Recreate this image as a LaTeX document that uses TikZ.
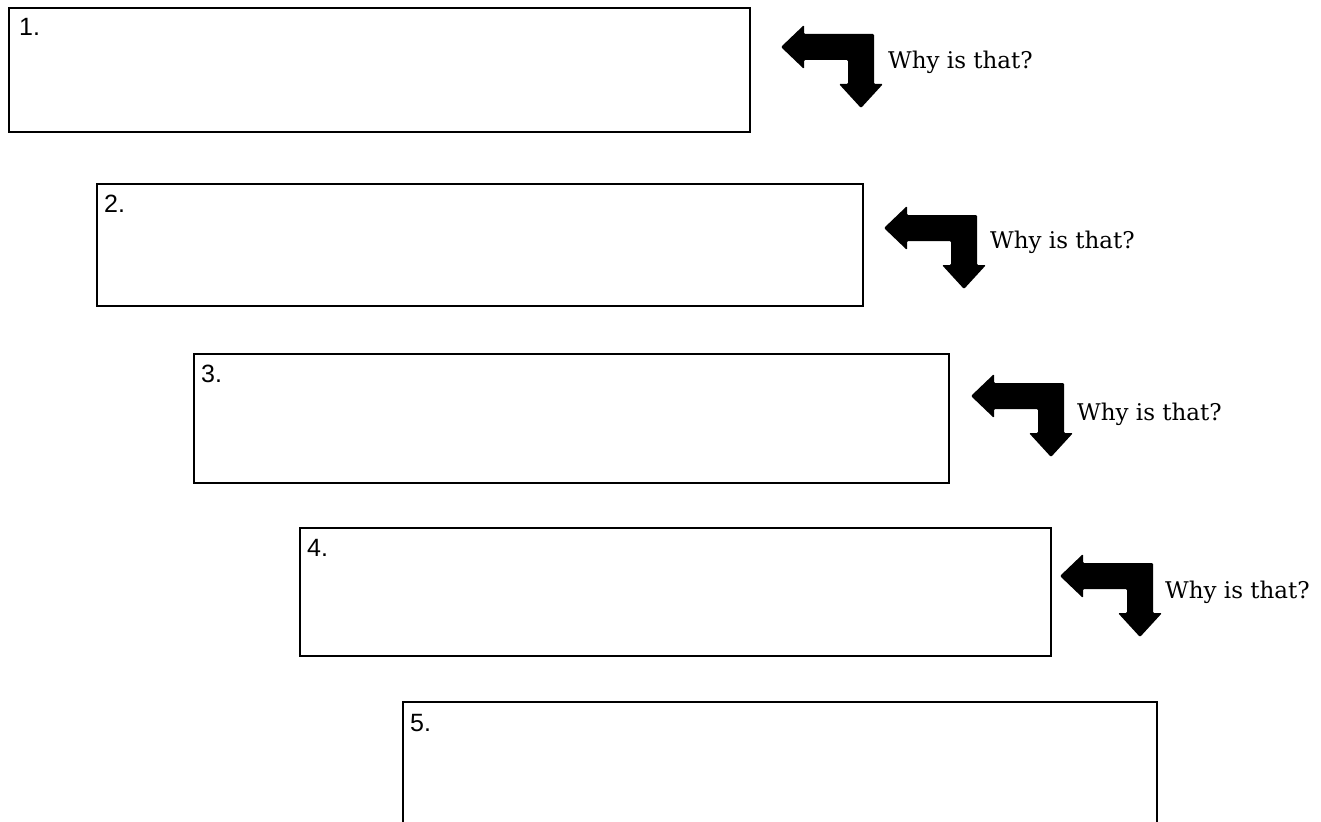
\documentclass[tikz,border=0pt]{standalone}
\usepackage{fontspec}
\setmainfont{DejaVu Serif}
\newfontfamily\lblfont{Liberation Sans}
\usetikzlibrary{calc}
\begin{document}
\begin{tikzpicture}[x=1pt,y=-1pt,
  box/.style={draw=black, line width=1.6pt, rectangle, inner sep=0pt, anchor=north west},
  lbl/.style={font=\lblfont\fontsize{25}{25}\selectfont, inner sep=0pt, anchor=base west},
  why/.style={font=\fontsize{23}{23}\selectfont, inner sep=0pt, anchor=base west},
  whyarrow/.pic={
    \fill[black, rounded corners=1.2pt] (0,0) -- (23,-22) -- (23,-13) -- (93,-13) -- (93,37)
      -- (102,37) -- (80,61) -- (58,37) -- (67,37) -- (67,13) -- (23,13) -- (23,22) -- cycle;
    \coordinate (-tip) at (0,0);
  }]
\useasboundingbox (0,0) rectangle (1321,821);
\fill[white] (0,0) rectangle (1321,821);
\clip (0,0) rectangle (1321,821);

% boxes
\node[box, minimum width=741pt, minimum height=124pt] (b1) at (8,7) {};
\node[box, minimum width=766pt, minimum height=122pt] (b2) at (96,183) {};
\node[box, minimum width=755pt, minimum height=129pt] (b3) at (193,353) {};
\node[box, minimum width=751pt, minimum height=128pt] (b4) at (299,527) {};
\node[box, minimum width=754pt, minimum height=160pt] (b5) at (402,701) {};

% labels
\node[lbl] (l1) at ($(b1.north west)+(11,29)$) {1.};
\node[lbl] (l2) at ($(b2.north west)+(8,29)$) {2.};
\node[lbl] (l3) at ($(b3.north west)+(8,29)$) {3.};
\node[lbl] (l4) at ($(b4.north west)+(8,29)$) {4.};
\node[lbl] (l5) at ($(b5.north west)+(8,30)$) {5.};

% arrows
\pic (a1) at (781,47) {whyarrow};
\pic (a2) at (884,228) {whyarrow};
\pic (a3) at (971,396) {whyarrow};
\pic (a4) at (1060,576) {whyarrow};

% texts
\node[why] (w1) at ($(a1-tip)+(107,22)$) {Why is that?};
\node[why] (w2) at ($(a2-tip)+(106,20)$) {Why is that?};
\node[why] (w3) at ($(a3-tip)+(106,24)$) {Why is that?};
\node[why] (w4) at ($(a4-tip)+(105,22)$) {Why is that?};
\end{tikzpicture}
\end{document}
